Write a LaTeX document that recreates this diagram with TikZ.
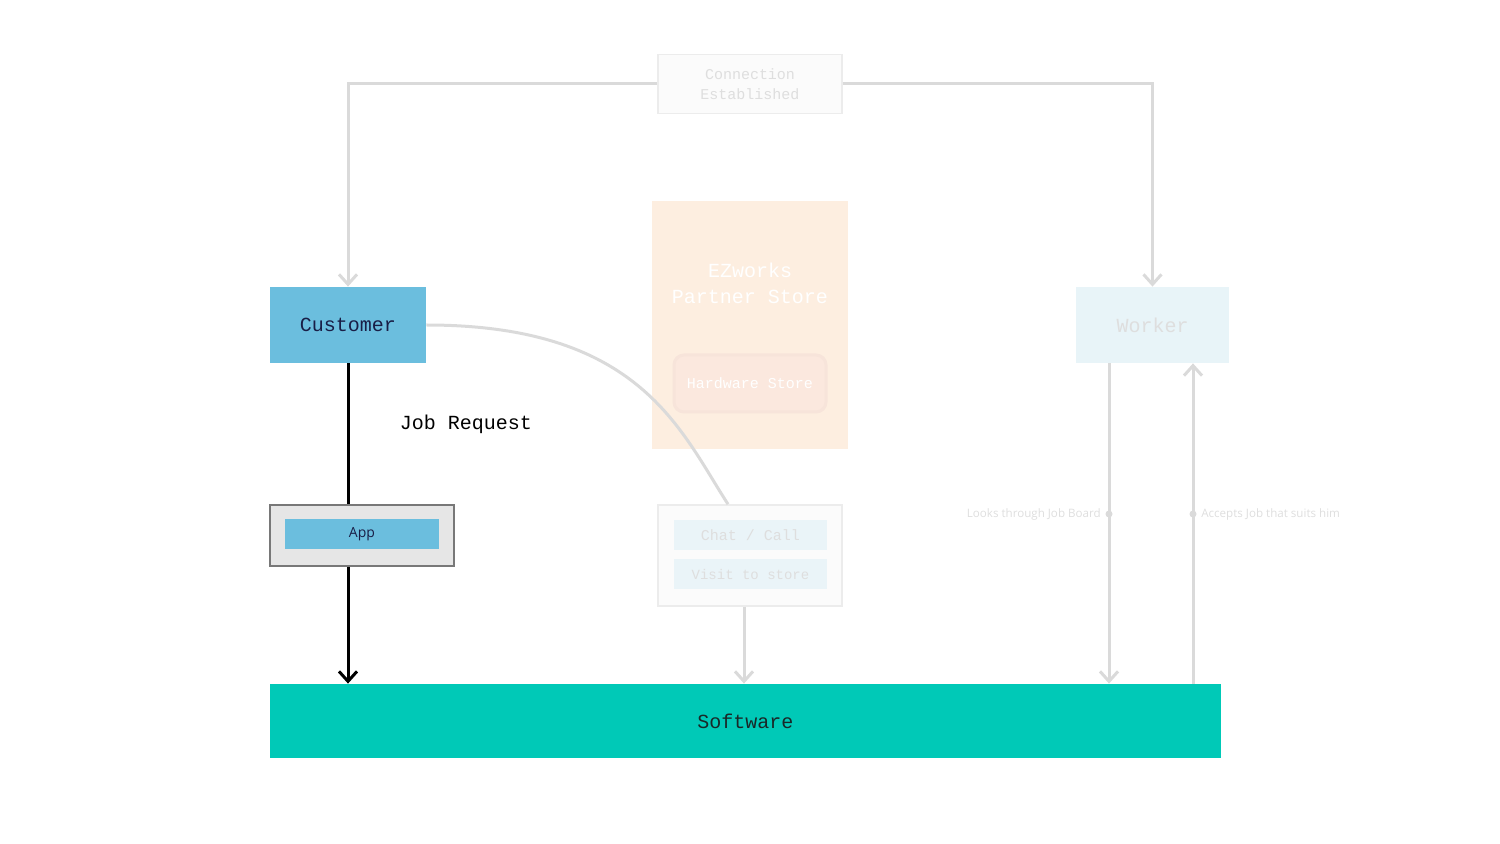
\documentclass[tikz,border=0pt]{standalone}
\usepackage{fontspec}
\setmainfont{Open Sans}
\setmonofont{Liberation Mono}
\usetikzlibrary{arrows.meta}
\definecolor{cust_blue}{RGB}{107,190,222}
\definecolor{text_navy}{RGB}{25,30,70}
\definecolor{line_gray}{RGB}{218,218,218}
\definecolor{faint_gray}{RGB}{222,222,222}
\definecolor{box_gray}{RGB}{251,251,251}
\definecolor{edge_gray}{RGB}{236,236,236}
\definecolor{store_peach}{RGB}{253,238,224}
\definecolor{hw_peach}{RGB}{251,232,222}
\definecolor{hw_edge}{RGB}{247,228,218}
\definecolor{worker_blue}{RGB}{232,244,248}
\definecolor{chan_blue}{RGB}{234,244,248}
\definecolor{app_gray}{RGB}{230,230,230}
\definecolor{app_edge}{RGB}{120,120,120}
\definecolor{soft_teal}{RGB}{0,201,183}
\definecolor{soft_text}{RGB}{25,40,40}

\begin{document}
\begin{tikzpicture}[x=0.5pt,y=-0.5pt,>={Straight Barb[length=5pt,width=9pt]}]
    \tikzstyle{mono}=[font=\ttfamily\fontsize{10}{12}\selectfont]
    \tikzstyle{monosm}=[font=\ttfamily\fontsize{7.5}{10}\selectfont]
    \tikzstyle{block}=[draw=none, rectangle, inner sep=0pt, align=center]
    \tikzstyle{faint}=[block,style=monosm,fill=box_gray,draw=edge_gray,line width=0.8pt,text=faint_gray]
    \tikzstyle{channel}=[block,style=monosm,fill=chan_blue,text=faint_gray,minimum width=76.5pt,minimum height=15pt]
    \tikzstyle{link}=[line_gray,line width=1.5pt]
    \tikzstyle{flow}=[black,line width=1.5pt]
    \tikzstyle{dot}=[circle,fill=line_gray,inner sep=0pt,minimum size=3.5pt]
    \tikzstyle{note}=[font=\fontsize{5.8}{7}\selectfont,text=faint_gray]

    \useasboundingbox (0,0) rectangle (1500,844);

    \node[faint,minimum width=92pt,minimum height=29.5pt] (conn) at (750,84) {Connection\\Established};
    \node[block,style=mono,fill=cust_blue,text=text_navy,minimum width=78pt,minimum height=38pt] (cust) at (348,325) {Customer};
    \node[block,fill=store_peach,minimum width=98pt,minimum height=124pt] (store) at (750,325) {};
    \node[block,style=mono,text=white] (ezw) at (750,283) {EZworks\\[1pt]Partner Store};
    \node[block,style=monosm,rounded corners=5pt,fill=hw_peach,draw=hw_edge,line width=1.5pt,text=white,minimum width=76pt,minimum height=28.5pt] (hw) at (750,383.5) {Hardware Store};
    \node[block,style=mono,fill=worker_blue,text=faint_gray,minimum width=76.5pt,minimum height=38pt] (wrk) at (1152.5,325) {Worker};
    \node[block,fill=app_gray,draw=app_edge,line width=0.8pt,minimum width=92pt,minimum height=30.5pt] (app) at (362,535.5) {};
    \node[block,fill=cust_blue,text=text_navy,font=\fontsize{7}{8}\selectfont,minimum width=77pt,minimum height=15pt] (appin) at (362,534) {App};
    \node[faint,minimum width=92pt,minimum height=50.5pt] (chan) at (750,555.5) {};
    \node[channel] (chat) at (750.5,535) {Chat / Call};
    \node[channel,font=\ttfamily\fontsize{7}{9}\selectfont] (visit) at (750.5,574) {Visit to store};
    \node[block,style=mono,fill=soft_teal,text=soft_text,minimum width=475.5pt,minimum height=37pt] (soft) at (745.5,721) {Software};
    \node[style=mono] (jobreq) at (466,424) {Job Request};

    \coordinate (lk) at (1109,514);
    \coordinate (ac) at (1193,514);

    % connection established
    \draw[link,->] (conn.west) -| (cust.north);
    \draw[link,->] (conn.east) -| (wrk.north);

    % customer side
    \draw[flow] (cust.south) -- (cust.south |- app.north);
    \draw[flow,->] (cust.south |- app.south) -- (cust.south |- soft.north);
    \draw[link] (cust.east) .. controls (640,325) and (680,430) .. ([xshift=-11pt]chan.north);
    \draw[link,->] ([xshift=-3pt]chan.south) -- ([xshift=-3pt]chan.south |- soft.north);

    % worker side
    \draw[link,->] (wrk.south -| lk) -- (lk |- soft.north);
    \draw[link,->] (ac |- soft.north) -- (wrk.south -| ac);
    \node[dot] (lkdot) at (lk) {};
    \node[dot] (acdot) at (ac) {};
    \node[note,anchor=east,inner sep=2pt] (lklab) at (lkdot.west) {Looks through Job Board};
    \node[note,anchor=west,inner sep=2pt] (aclab) at (acdot.east) {Accepts Job that suits him};
\end{tikzpicture}
\end{document}
